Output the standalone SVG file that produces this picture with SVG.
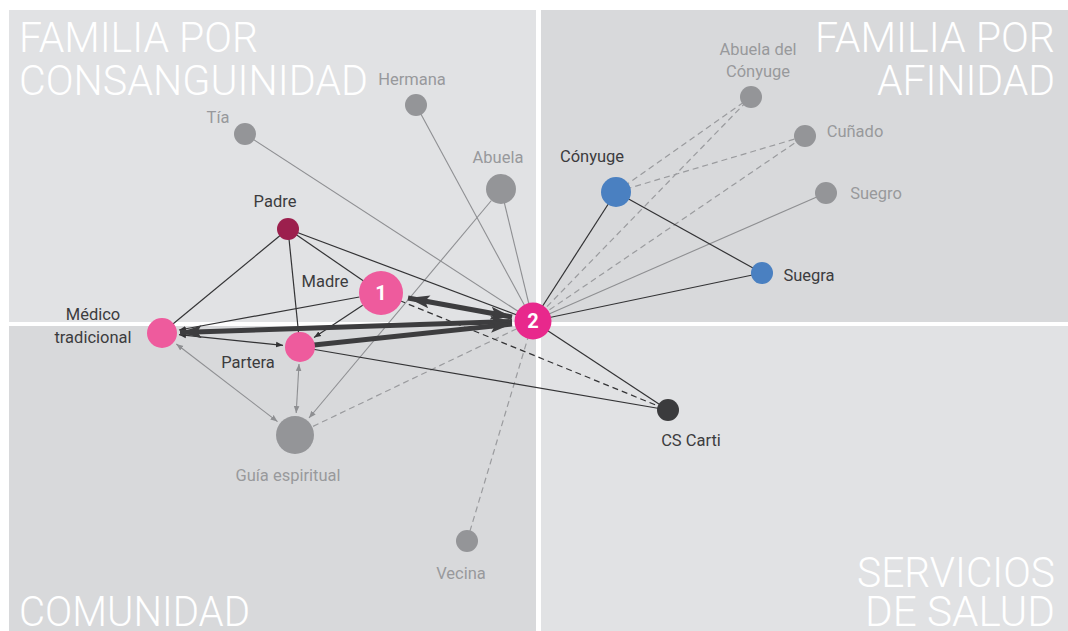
<svg xmlns="http://www.w3.org/2000/svg" width="1068" height="631" viewBox="0 0 1068 631">
<defs>
<style>
.title{font-family:Roboto,"Liberation Sans",sans-serif;font-weight:300;font-size:43px;fill:#ffffff}
.lbl{font-family:Roboto,"Liberation Sans",sans-serif;font-size:16.5px}
.lg{fill:#98999c}
.ld{fill:#3c3c3e}
.num{font-family:Roboto,"Liberation Sans",sans-serif;font-weight:700;font-size:20px;fill:#ffffff;text-anchor:middle}
.gs{stroke:#8e8f92;stroke-width:1.1;fill:none}
.gd{stroke:#9a9b9e;stroke-width:1.2;stroke-dasharray:6 4;fill:none}
.ds{stroke:#333335;stroke-width:1.2;fill:none}
.dd{stroke:#333335;stroke-width:1.2;stroke-dasharray:6 4;fill:none}
.thick{stroke:#3d3d3f;stroke-width:5;fill:none}
.gray{fill:#949598}
.pink{fill:#ee5b9d}
.hot{fill:#e8288c}
.blue{fill:#4a80c1}
</style>
<marker id="ad" viewBox="0 0 10 10" refX="10" refY="5" markerWidth="7" markerHeight="7" markerUnits="userSpaceOnUse" orient="auto-start-reverse"><path d="M0,1 L10,5 L0,9 z" fill="#333335"/></marker>
<marker id="ag" viewBox="0 0 10 10" refX="10" refY="5" markerWidth="7" markerHeight="7" markerUnits="userSpaceOnUse" orient="auto-start-reverse"><path d="M0,1 L10,5 L0,9 z" fill="#8e8f92"/></marker>
<marker id="at" viewBox="0 0 20 12" refX="20" refY="6" markerWidth="22" markerHeight="13" markerUnits="userSpaceOnUse" orient="auto-start-reverse"><path d="M0,0 L20,6 L0,12 L4,6 z" fill="#3d3d3f"/></marker>
</defs>

<g id="background">
<rect x="0" y="0" width="1068" height="631" fill="#ffffff"/>
<rect x="9" y="10" width="527" height="312" fill="#e1e2e4"/>
<rect x="541" y="10" width="527" height="312" fill="#d8d9db"/>
<rect x="9" y="326" width="527" height="305" fill="#d8d9db"/>
<rect x="541" y="326" width="527" height="305" fill="#e1e2e4"/>
</g>

<g id="titles">
<text class="title" x="19" y="52" textLength="239" lengthAdjust="spacingAndGlyphs">FAMILIA POR</text>
<text class="title" x="19" y="95" textLength="349" lengthAdjust="spacingAndGlyphs">CONSANGUINIDAD</text>
<text class="title" x="815" y="52" textLength="240" lengthAdjust="spacingAndGlyphs">FAMILIA POR</text>
<text class="title" x="877" y="95" textLength="178" lengthAdjust="spacingAndGlyphs">AFINIDAD</text>
<text class="title" x="857" y="587" textLength="198" lengthAdjust="spacingAndGlyphs">SERVICIOS</text>
<text class="title" x="865" y="626" textLength="190" lengthAdjust="spacingAndGlyphs">DE SALUD</text>
<text class="title" x="19" y="626" textLength="231" lengthAdjust="spacingAndGlyphs">COMUNIDAD</text>
</g>

<g id="connectors">
<line class="gs" x1="245" y1="134" x2="533" y2="321"/>
<line class="gs" x1="416" y1="105" x2="533" y2="321"/>
<line class="gs" x1="501" y1="189" x2="533" y2="321"/>
<line class="gs" x1="826" y1="193" x2="533" y2="321"/>
<line class="gs" x1="491.4" y1="200.5" x2="309" y2="418" marker-end="url(#ag)"/>
<line class="gs" x1="176.3" y1="344" x2="277.5" y2="421.6" marker-start="url(#ag)" marker-end="url(#ag)"/>
<line class="gs" x1="299" y1="364" x2="296.2" y2="413" marker-start="url(#ag)" marker-end="url(#ag)"/>
<line class="gd" x1="616" y1="192" x2="751" y2="97"/>
<line class="gd" x1="616" y1="192" x2="805" y2="136"/>
<line class="gd" x1="533" y1="321" x2="751" y2="97"/>
<line class="gd" x1="533" y1="321" x2="805" y2="136"/>
<line class="gd" x1="295" y1="435" x2="533" y2="321"/>
<line class="gd" x1="467" y1="541" x2="533" y2="321"/>
<line class="ds" x1="288" y1="229" x2="162" y2="333"/>
<line class="ds" x1="288" y1="229" x2="300" y2="347"/>
<line class="ds" x1="288" y1="229" x2="381" y2="293"/>
<line class="ds" x1="288" y1="229" x2="533" y2="321"/>
<line class="ds" x1="616" y1="192" x2="533" y2="321"/>
<line class="ds" x1="616" y1="192" x2="762" y2="273"/>
<line class="ds" x1="762" y1="273" x2="533" y2="321"/>
<line class="ds" x1="533" y1="321" x2="668" y2="410"/>
<line class="ds" x1="300" y1="347" x2="668" y2="410"/>
<line class="ds" x1="359.4" y1="297" x2="179" y2="330" marker-end="url(#ad)"/>
<line class="ds" x1="179" y1="334.7" x2="283" y2="345.3" marker-start="url(#ad)" marker-end="url(#ad)"/>
<line class="ds" x1="362.7" y1="305.2" x2="314" y2="337.6" marker-end="url(#ad)"/>
<line class="dd" x1="381" y1="293" x2="668" y2="410"/>
<line class="thick" x1="408" y1="298" x2="512" y2="317" marker-start="url(#at)" marker-end="url(#at)"/>
<line class="thick" x1="180" y1="332.5" x2="512" y2="321.5" marker-start="url(#at)" marker-end="url(#at)"/>
<line class="thick" x1="314" y1="345" x2="512" y2="324" marker-end="url(#at)"/>
</g>

<g id="node-tia"><circle class="gray" cx="245" cy="134" r="11"/><text class="lbl lg" x="218" y="123" text-anchor="middle">Tía</text></g>
<g id="node-hermana"><circle class="gray" cx="416" cy="105" r="11"/><text class="lbl lg" x="412" y="85" text-anchor="middle">Hermana</text></g>
<g id="node-abuela"><circle class="gray" cx="501" cy="189" r="15"/><text class="lbl lg" x="498" y="163" text-anchor="middle">Abuela</text></g>
<g id="node-padre"><circle fill="#9c1f4d" cx="288" cy="229" r="11"/><text class="lbl ld" x="275" y="207" text-anchor="middle">Padre</text></g>
<g id="node-madre"><circle class="pink" cx="381" cy="293" r="22"/><text class="num" x="381" y="300">1</text><text class="lbl ld" x="325" y="287" text-anchor="middle">Madre</text></g>
<g id="node-2"><circle class="hot" cx="533" cy="321" r="18.5"/><text class="num" x="533" y="328">2</text></g>
<g id="node-medico"><circle class="pink" cx="162" cy="333" r="15"/><text class="lbl ld" x="93" y="320" text-anchor="middle">Médico</text><text class="lbl ld" x="93" y="343" text-anchor="middle">tradicional</text></g>
<g id="node-partera"><circle class="pink" cx="300" cy="347" r="15"/><text class="lbl ld" x="248" y="368" text-anchor="middle">Partera</text></g>
<g id="node-guia"><circle class="gray" cx="295" cy="435" r="19"/><text class="lbl lg" x="288" y="481" text-anchor="middle">Guía espiritual</text></g>
<g id="node-vecina"><circle class="gray" cx="467" cy="541" r="11"/><text class="lbl lg" x="461" y="579" text-anchor="middle">Vecina</text></g>
<g id="node-cs"><circle fill="#3b3b3d" cx="668" cy="410" r="11"/><text class="lbl ld" x="691" y="446" text-anchor="middle">CS Carti</text></g>
<g id="node-conyuge"><circle class="blue" cx="616" cy="192" r="15"/><text class="lbl ld" x="592" y="162" text-anchor="middle">Cónyuge</text></g>
<g id="node-suegra"><circle class="blue" cx="762" cy="273" r="11"/><text class="lbl ld" x="809" y="281" text-anchor="middle">Suegra</text></g>
<g id="node-abuela-conyuge"><circle class="gray" cx="751" cy="97" r="11"/><text class="lbl lg" x="758" y="55" text-anchor="middle">Abuela del</text><text class="lbl lg" x="758" y="77" text-anchor="middle">Cónyuge</text></g>
<g id="node-cunado"><circle class="gray" cx="805" cy="136" r="11"/><text class="lbl lg" x="855" y="137" text-anchor="middle">Cuñado</text></g>
<g id="node-suegro"><circle class="gray" cx="826" cy="193" r="11"/><text class="lbl lg" x="876" y="199" text-anchor="middle">Suegro</text></g>
</svg>
